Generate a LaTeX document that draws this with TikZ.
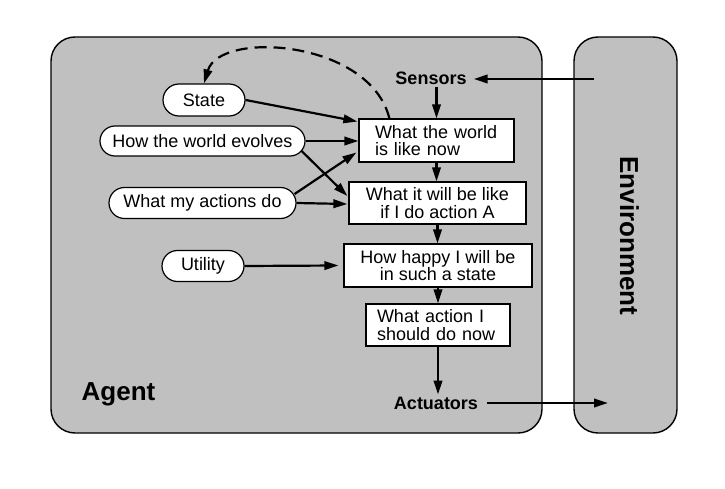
\documentclass[tikz,border=0pt]{standalone}
\usepackage{fontspec}
\setmainfont{Liberation Sans}
\usetikzlibrary{shapes.misc,arrows.meta,calc}
\definecolor{panel}{RGB}{192,192,192}
\tikzset{
  panelbox/.style={draw=black, line width=1.4pt, fill=panel, rounded corners=24pt},
  capsule/.style={draw=black, line width=1.2pt, fill=white, rounded rectangle, inner sep=0pt, font=\fontsize{18}{18}\selectfont},
  infobox/.style={draw=black, line width=1.2pt, fill=white, rectangle, inner ysep=0pt, font=\fontsize{18}{17.5}\selectfont},
  biglabel/.style={font=\bfseries\fontsize{18}{18}\selectfont, inner sep=2pt},
  flow/.style={line width=2.2pt, -{Triangle[length=14pt,width=8.5pt]}},
  memory/.style={line width=2.2pt, dash pattern=on 12pt off 7pt, -{Triangle[length=14pt,width=8.5pt]}}
}
\begin{document}
\begin{tikzpicture}[x=1pt,y=-1pt]
\useasboundingbox (0,0) rectangle (725,489);
% panels
\draw[panelbox] (51,37) rectangle (542,433);
\draw[panelbox] (574,37) rectangle (677,433);
\node[font=\bfseries\fontsize{26}{26}\selectfont, rotate=-90, inner sep=0pt] (env) at (629.5,236) {Environment};
\node[font=\bfseries\fontsize{26}{26}\selectfont, inner sep=0pt] (agent) at (118.5,394) {Agent};
\node[biglabel] (sensors) at (431,78) {Sensors};
\node[biglabel] (actuators) at (436,403) {Actuators};
% left capsules
\node[capsule, minimum width=82pt, minimum height=32pt] (state) at (204,100) {State};
\node[capsule, minimum width=205pt, minimum height=30pt] (evolves) at (202.5,141) {How the world evolves};
\node[capsule, minimum width=187pt, minimum height=31pt] (actions) at (202.5,203) {What my actions do};
\node[capsule, minimum width=82pt, minimum height=31pt] (utility) at (203,266) {Utility};
% right boxes
\node[infobox, minimum height=43pt, inner xsep=16pt, text width=123pt, align=left] (b1) at (436.5,140.5) {What the world\\is like now};
\node[infobox, minimum height=42pt, minimum width=177pt, align=center] (b2) at (437.5,203) {What it will be like\\if I do action A};
\node[infobox, minimum height=43pt, minimum width=188pt, align=center] (b3) at (438,265.5) {How happy I will be\\in such a state};
\node[infobox, minimum height=42pt, inner xsep=11pt, text width=122pt, align=left] (b4) at (438,325) {What action I\\should do now};
% coordinates for free ends
\coordinate (envout) at (594,79);
\coordinate (envin) at (608,403);
% connectors
\draw[flow, shorten >=5pt] (envout) -- (sensors.east |- envout);
\draw[flow] (b1.north |- sensors.south) -- (b1.north);
\draw[flow] (b1.south) -- (b1.south |- b2.north);
\draw[flow] (b2.south) -- (b2.south |- b3.north);
\draw[flow] (b3.south) -- (b3.south |- b4.north);
\draw[flow] (b4.south) -- (b4.south |- actuators.north);
\draw[flow, shorten <=7pt] (actuators.east) -- (envin);
\draw[flow] (state.east) -- ($(b1.west)+(-1,-19)$);
\draw[flow] (evolves.east) -- (b1.west |- evolves.east);
\draw[flow] ($(evolves.east)+(-4,10)$) -- ($(b2.west)+(-1,-7)$);
\draw[flow] ($(actions.east)+(-2,-9)$) -- ($(b1.west)+(-2,12)$);
\draw[flow] (actions.east) -- ($(b2.west)+(-1,1)$);
\draw[flow] (utility.east) -- ($(b3.west)+(-5,0)$);
\draw[memory] ($(b1.north west)+(31,0)$) .. controls (370,40) and (220,30) .. (state.north);
\end{tikzpicture}
\end{document}
